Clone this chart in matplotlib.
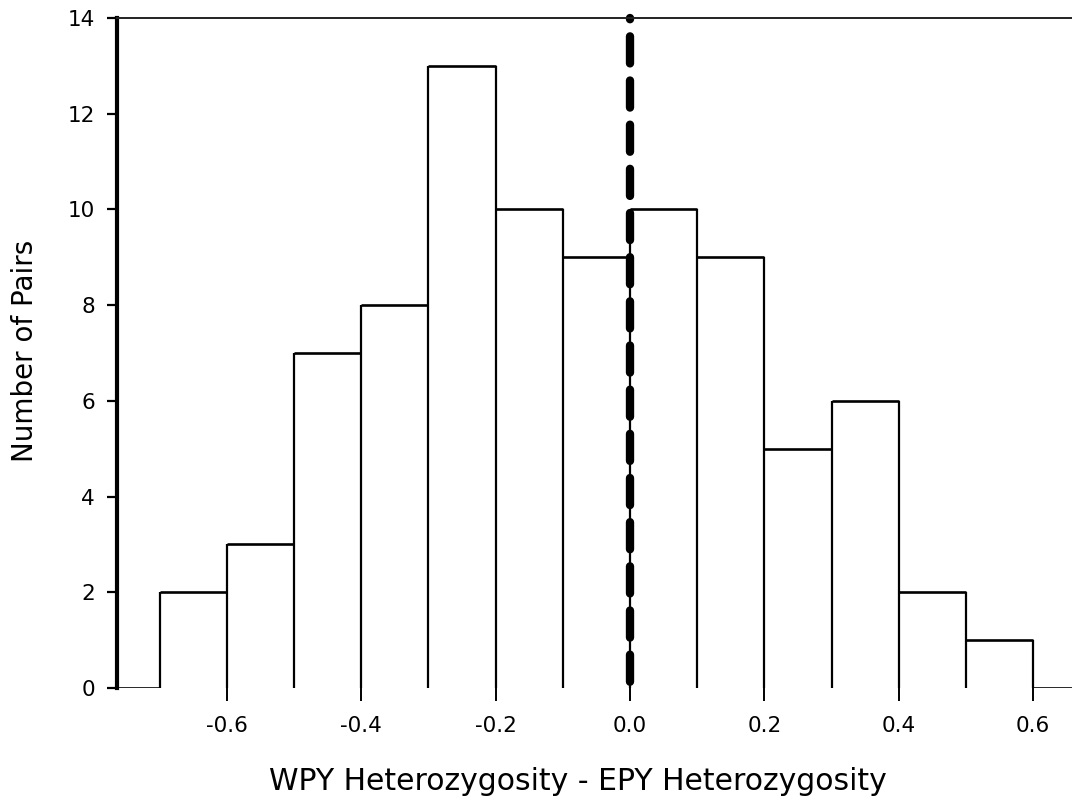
import numpy as np
import matplotlib.pyplot as plt

plt.rcParams['font.family'] = ['DejaVu Sans']

# histogram of pair differences, bin width 0.1 (zero bins at both ends)
edges = np.round(np.arange(-0.8, 0.71, 0.1), 2)
counts = [0, 2, 3, 7, 8, 13, 10, 9, 10, 9, 5, 6, 2, 1, 0]
xticks = [-0.6, -0.4, -0.2, 0.0, 0.2, 0.4, 0.6]
yticks = [0, 2, 4, 6, 8, 10, 12, 14]

fig = plt.figure(figsize=(10.72, 8.06), dpi=100)
ax = fig.add_axes([117 / 1072, 1 - 688 / 806, 1 - 117 / 1072, (688 - 18) / 806])

# bar outlines: tops plus edge lines down to zero, no bottoms
ax.hlines(counts, edges[:-1], edges[1:], color='black', lw=1.9)
padded = [0] + counts + [0]
vh = [max(padded[i], padded[i + 1]) for i in range(len(edges))]
ax.vlines(edges, 0, vh, color='black', lw=1.6)

# zero line, drawn from the top down
ax.plot([0, 0], [14, 0], color='black', lw=6, linestyle=(3.1, (3.25, 2.05)),
        dash_capstyle='round', clip_on=False)

ax.set_xlim(-0.7637, 0.658)
ax.set_ylim(0, 14)
ax.set_xticks(xticks)
ax.set_xticklabels(['%.1f' % t for t in xticks])
ax.set_yticks(yticks)

ax.spines['right'].set_visible(False)
ax.spines['bottom'].set_visible(False)
ax.spines['left'].set_linewidth(3)
ax.spines['top'].set_linewidth(1.4)
ax.spines['top'].set_color('#222222')

ax.tick_params(axis='x', direction='out', length=9, width=1.4, pad=11, labelsize=15.5)
ax.tick_params(axis='y', direction='out', length=7, width=1.6, pad=9, labelsize=15.5)

ax.set_xlabel('WPY Heterozygosity - EPY Heterozygosity', fontsize=21.5)
ax.xaxis.set_label_coords(0.483, -0.118)
ax.set_ylabel('Number of Pairs', fontsize=20)
ax.yaxis.set_label_coords(-0.082, 0.503)

fig.savefig('out.png', dpi=100)
